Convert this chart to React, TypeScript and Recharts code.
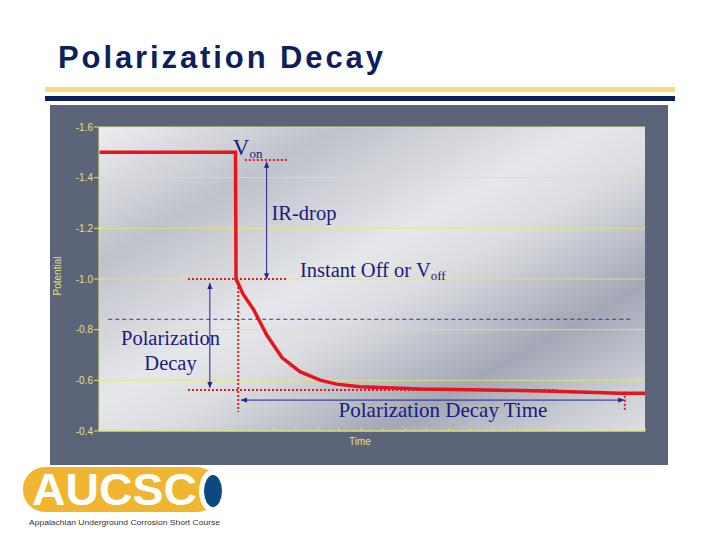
import { LineChart, Line, XAxis, YAxis, CartesianGrid, ReferenceLine } from "recharts";

// red potential trace (time in % of the axis, potential in V)
const timeValues = [0, 25, 25.1, 26.4, 28.3, 30.7, 33.5, 36.8, 40.5, 43.5, 47.8, 58.8, 71, 83.2, 95.4, 100];
const potentialValues = [-1.5, -1.5, -1.0, -0.94, -0.88, -0.78, -0.69, -0.634, -0.601, -0.585, -0.575, -0.566, -0.562, -0.557, -0.549, -0.549];

const potentialTicks = [-1.6, -1.4, -1.2, -1.0, -0.8, -0.6, -0.4];
const timeTicks = [0, 4, 8, 12, 16, 20, 24, 28, 32, 36, 40, 44, 48, 52, 56, 60, 64, 68, 72, 76, 80, 84, 88, 92, 96, 100];

// annotation anchors, [time, potential]
const dottedRed = [
  [[26.7, -1.47], [34.6, -1.47]],
  [[16.3, -1.0], [34.6, -1.0]],
  [[16.3, -0.562], [83.8, -0.562]],
  [[25.5, -0.984], [25.5, -0.475]],
  [[96.3, -0.555], [96.3, -0.476]],
];
const arrows = [
  [[30.7, -1.463], [30.7, -0.999]],
  [[20.3, -0.984], [20.3, -0.57]],
  [[26.0, -0.522], [96.2, -0.522]],
];
const dashedBlue = [[1.7, -0.841], [97.8, -0.841]];

const notes = [
  { t: 24.5, v: -1.489, main: "V", sub: "on", size: 23, anchor: "start" },
  { t: 31.6, v: -1.233, main: "IR-drop", sub: "", size: 20.5, anchor: "start" },
  { t: 36.8, v: -1.007, main: "Instant Off or V", sub: "off", size: 20.5, anchor: "start" },
  { t: 13.1, v: -0.739, main: "Polarization", sub: "", size: 20.5, anchor: "middle" },
  { t: 13.1, v: -0.64, main: "Decay", sub: "", size: 20.5, anchor: "middle" },
  { t: 63.0, v: -0.454, main: "Polarization Decay Time", sub: "", size: 21, anchor: "middle" },
];

const data = timeValues.map((t, i) => ({ t, v: potentialValues[i] }));

const NAVY_TEXT = "#1a1a7c";
const AXIS_YELLOW = "#e2e278";
const SERIF = '"Liberation Serif", "Times New Roman", serif';
const SANS = '"Liberation Sans", Arial, sans-serif';

const head = (x: number, y: number, a: number) => {
  const L = 6;
  const W = 2.6;
  const bx = x - L * Math.cos(a);
  const by = y - L * Math.sin(a);
  return `${x},${y} ${bx + W * Math.sin(a)},${by - W * Math.cos(a)} ${bx - W * Math.sin(a)},${by + W * Math.cos(a)}`;
};

const arrowShape = (p: any) => {
  const { x1, y1, x2, y2 } = p;
  const a = Math.atan2(y2 - y1, x2 - x1);
  return (
    <g>
      <line x1={x1} y1={y1} x2={x2} y2={y2} stroke="#22228a" strokeWidth={1} />
      <polygon points={head(x2, y2, a)} fill="#22228a" />
      <polygon points={head(x1, y1, a + Math.PI)} fill="#22228a" />
    </g>
  );
};

const noteShape = (n: (typeof notes)[number]) => (p: any) => (
  <text x={p.x1} y={p.y1} textAnchor={n.anchor} fill={NAVY_TEXT} fontFamily={SERIF} fontSize={n.size}>
    {n.main}
    {n.sub ? (
      <tspan fontSize={13} dy={3}>
        {n.sub}
      </tspan>
    ) : null}
  </text>
);

// axis titles sit in the slate frame, 10px under / left of the plot
const PLOT = { left: 49, top: 22, right: 595, bottom: 326 };

export default function App() {
  return (
    <div style={{ position: "absolute", left: 0, top: 0, width: 720, height: 540, background: "#fff", overflow: "hidden" }}>
      <svg width={720} height={540} style={{ position: "absolute", left: 0, top: 0 }}>
        <text x={58} y={68} fontFamily={SANS} fontWeight="bold" fontSize={31} fill="#0d1f5c" textLength={325} lengthAdjust="spacing">
          Polarization Decay
        </text>
        <rect x={45} y={87} width={630} height={5} fill="#f6da80" />
        <rect x={45} y={96} width={630} height={5} fill="#0b1f5b" />
        {/* AUCSC logo */}
        <rect x={23} y={467} width={196} height={45} rx={22} fill="#f1b630" />
        <ellipse cx={212} cy={491} rx={13} ry={21} fill="#fff" />
        <ellipse cx={213} cy={491} rx={9} ry={16} fill="#0b4a7e" />
        <text x={32} y={505} fontFamily={SANS} fontWeight="bold" fontSize={44} fill="#fff" textLength={165} lengthAdjust="spacingAndGlyphs">
          AUCSC
        </text>
        <text x={29} y={525} fontFamily={SANS} fontSize={8} fill="#333" textLength={191} lengthAdjust="spacingAndGlyphs">
          Appalachian Underground Corrosion Short Course
        </text>
      </svg>
      <div style={{ position: "absolute", left: 50, top: 105, width: 618, height: 360, background: "#5b6479" }}>
        <LineChart width={618} height={360} data={data} margin={{ top: PLOT.top, right: 618 - PLOT.right, bottom: 360 - PLOT.bottom, left: 0 }}>
          <defs>
            <linearGradient id="plotBg" x1="0" y1="0" x2="1" y2="1">
              <stop offset="0" stopColor="#eeeef1" />
              <stop offset="0.22" stopColor="#bfc2cb" />
              <stop offset="0.45" stopColor="#e6e7ea" />
              <stop offset="0.56" stopColor="#dadce0" />
              <stop offset="0.76" stopColor="#a3a8b6" />
              <stop offset="0.9" stopColor="#c8cbd2" />
              <stop offset="1" stopColor="#dedfe3" />
            </linearGradient>
          </defs>
          <CartesianGrid vertical={false} stroke="#e6e670" strokeOpacity={0.85} fill="url(#plotBg)" fillOpacity={1} />
          <XAxis
            type="number"
            dataKey="t"
            domain={[0, 100]}
            ticks={timeTicks}
            tickFormatter={() => ""}
            mirror
            tickSize={3}
            height={1}
            axisLine={{ stroke: AXIS_YELLOW }}
            tickLine={{ stroke: AXIS_YELLOW }}
          />
          <YAxis
            type="number"
            domain={[-1.6, -0.4]}
            reversed
            ticks={potentialTicks}
            tickFormatter={(v: number) => v.toFixed(1)}
            width={PLOT.left}
            tickSize={5}
            tickMargin={1}
            tick={{ fill: AXIS_YELLOW, fontSize: 10, fontFamily: SANS }}
            axisLine={{ stroke: AXIS_YELLOW }}
            tickLine={{ stroke: AXIS_YELLOW }}
          />
          <text x={(PLOT.left + PLOT.right) / 2 - 12} y={PLOT.bottom + 13.5} textAnchor="middle" fill={AXIS_YELLOW} fontFamily={SANS} fontSize={10}>
            Time
          </text>
          <text
            x={10.5}
            y={(PLOT.top + PLOT.bottom) / 2 - 3}
            transform={`rotate(-90, 10.5, ${(PLOT.top + PLOT.bottom) / 2 - 3})`}
            textAnchor="middle"
            fill={AXIS_YELLOW}
            fontFamily={SANS}
            fontSize={10}
          >
            Potential
          </text>
          <ReferenceLine
            ifOverflow="visible"
            segment={[{ x: dashedBlue[0][0], y: dashedBlue[0][1] }, { x: dashedBlue[1][0], y: dashedBlue[1][1] }]}
            stroke="#3434a0"
            strokeWidth={1}
            strokeDasharray="4 3"
          />
          {dottedRed.map((s, i) => (
            <ReferenceLine
              key={`d${i}`}
              ifOverflow="visible"
              segment={[{ x: s[0][0], y: s[0][1] }, { x: s[1][0], y: s[1][1] }]}
              stroke="#d61f26"
              strokeWidth={2}
              strokeDasharray="2 2"
            />
          ))}
          <Line type="linear" dataKey="v" stroke="#e8141c" strokeWidth={3.5} dot={false} isAnimationActive={false} />
          {arrows.map((s, i) => (
            <ReferenceLine
              key={`a${i}`}
              ifOverflow="visible"
              segment={[{ x: s[0][0], y: s[0][1] }, { x: s[1][0], y: s[1][1] }]}
              shape={arrowShape}
            />
          ))}
          {notes.map((n, i) => (
            <ReferenceLine
              key={`n${i}`}
              ifOverflow="visible"
              segment={[{ x: n.t, y: n.v }, { x: n.t, y: n.v }]}
              shape={noteShape(n)}
            />
          ))}
        </LineChart>
      </div>
    </div>
  );
}
